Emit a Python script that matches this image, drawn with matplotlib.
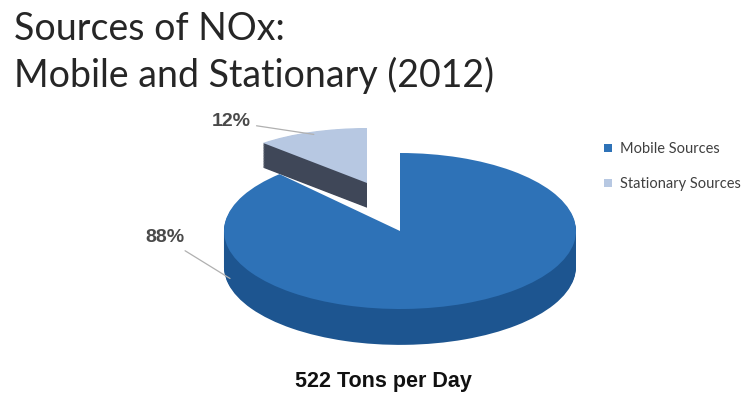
import numpy as np
import matplotlib.pyplot as plt
from matplotlib.patches import Patch

# data
labels = ['Mobile Sources', 'Stationary Sources']
shares = [88, 12]
pct_labels = ['88%', '12%']
title_lines = ['Sources of NOx:', 'Mobile and Stationary (2012)']
subtitle = '522 Tons per Day'

top_colors = ['#2E72B7', '#B7C8E2']
side_colors = ['#1D5590', '#3F4758']

W, H = 754, 397
fig = plt.figure(figsize=(W / 100, H / 100), dpi=100)


def pie_axes(cx, cy, rx, ry, depth, lim=1.3):
    # axes placed so that data unit 1 = rx px horizontally, ry px vertically
    left, right = cx - lim * rx, cx + lim * rx
    top, bottom = cy - lim * ry, cy + (lim + depth) * ry
    ax = fig.add_axes([left / W, 1 - bottom / H, (right - left) / W, (bottom - top) / H])
    return ax, (-lim, lim), (-lim - depth, lim)


def draw_3d(ax, xlim, ylim, idx, depth, n=34):
    side = [c if i == idx else 'none' for i, c in enumerate(side_colors)]
    top = [c if i == idx else 'none' for i, c in enumerate(top_colors)]
    for k in range(n, 0, -1):
        ax.pie(shares, startangle=90, counterclock=False, colors=side,
               center=(0, -depth * k / n), wedgeprops=dict(linewidth=0))
    wedges, _ = ax.pie(shares, startangle=90, counterclock=False, colors=top,
                       wedgeprops=dict(linewidth=0))
    ax.set_aspect('auto')
    ax.set_xlim(*xlim)
    ax.set_ylim(*ylim)
    ax.axis('off')
    return wedges


# stationary slice (pulled out, further back so a bit smaller)
ax_s, xl, yl = pie_axes(367, 183, 152, 55, 0.45)
w_s = draw_3d(ax_s, xl, yl, 1, 0.45)

# mobile slice
ax_m, xl, yl = pie_axes(400, 231, 176, 78, 0.46)
w_m = draw_3d(ax_m, xl, yl, 0, 0.46)

line_kw = dict(arrowstyle='-', color='#B0B0B0', lw=0.9, shrinkA=2, shrinkB=0)
txt_kw = dict(fontsize=14, fontweight='bold', color='#4A4A4A',
              family='Liberation Sans', ha='right', va='center')

mid = np.deg2rad((w_s[1].theta1 + w_s[1].theta2) / 2)
ax_s.annotate(pct_labels[1], xy=(0.95 * np.cos(mid), 0.95 * np.sin(mid)),
              xytext=(251, H - 122), textcoords='figure pixels',
              arrowprops=line_kw, **txt_kw)

a = np.deg2rad(195)
ax_m.annotate(pct_labels[0], xy=(np.cos(a), np.sin(a) - 0.35),
              xytext=(184, H - 238), textcoords='figure pixels',
              arrowprops=line_kw, **txt_kw)

# titles
fig.text(14 / W, 1 - 40 / H, title_lines[0], fontsize=27, family='Lato',
         color='#262626', va='baseline', ha='left')
fig.text(14 / W, 1 - 87 / H, title_lines[1], fontsize=27, family='Lato',
         color='#262626', va='baseline', ha='left')
fig.text(383 / W, 1 - 382 / H, subtitle, fontsize=15.5, fontweight='bold',
         family='Liberation Sans', color='#111111', ha='center', va='center')

handles = [Patch(facecolor=c, edgecolor='none') for c in top_colors]
leg = fig.legend(handles, labels, loc='upper left',
                 bbox_to_anchor=(597 / W, 1 - 135 / H), frameon=False,
                 prop=dict(family='Lato', size=10.5),
                 handlelength=0.5, handleheight=0.5,
                 labelspacing=1.45, handletextpad=0.55, borderpad=0)
for t in leg.get_texts():
    t.set_color('#404040')

fig.savefig('out.png', dpi=100)
